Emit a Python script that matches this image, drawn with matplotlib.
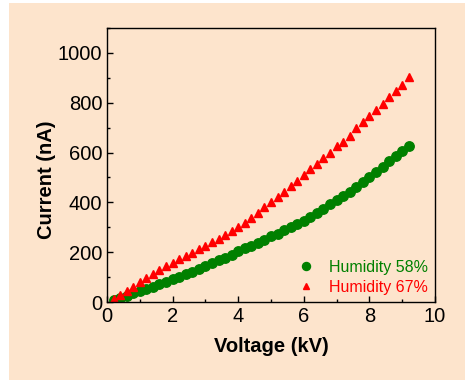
import matplotlib
matplotlib.use('Agg')
import matplotlib.pyplot as plt
from matplotlib.patches import Rectangle
from matplotlib.ticker import MultipleLocator

# voltage steps (kV)
voltage = [0.2, 0.4, 0.6, 0.8, 1.0, 1.2, 1.4, 1.6, 1.8, 2.0,
           2.2, 2.4, 2.6, 2.8, 3.0, 3.2, 3.4, 3.6, 3.8, 4.0,
           4.2, 4.4, 4.6, 4.8, 5.0, 5.2, 5.4, 5.6, 5.8, 6.0,
           6.2, 6.4, 6.6, 6.8, 7.0, 7.2, 7.4, 7.6, 7.8, 8.0,
           8.2, 8.4, 8.6, 8.8, 9.0, 9.2]

# current (nA) at humidity 58%
current_58 = [8, 15, 25, 35, 45, 53, 62, 72, 82, 92,
              102, 112, 122, 132, 143, 155, 167, 178, 190, 203,
              215, 226, 238, 250, 263, 275, 288, 300, 313, 327,
              342, 357, 373, 393, 408, 425, 443, 462, 482, 500,
              520, 543, 565, 588, 605, 627]

# current (nA) at humidity 67%
current_67 = [12, 30, 45, 62, 80, 97, 113, 130, 143, 158,
              172, 185, 198, 213, 225, 240, 252, 267, 285, 303,
              318, 337, 357, 380, 400, 420, 443, 465, 487, 510,
              532, 555, 578, 600, 625, 643, 665, 700, 722, 745,
              770, 793, 825, 848, 870, 905]

labels = ['Humidity 58%', 'Humidity 67%']
colors = ['#008000', '#ff0000']
peach = '#fde4cc'

plt.rcParams['font.family'] = ['Liberation Sans', 'DejaVu Sans']

fig = plt.figure(figsize=(4.65, 3.8), dpi=100, facecolor='white')
fig.patches.append(Rectangle((9 / 465, 0), 1, 377 / 380, transform=fig.transFigure,
                             facecolor=peach, edgecolor='none', zorder=-10))

ax = fig.add_axes([107 / 465, 1 - 302 / 380, 328 / 465, 274 / 380])
ax.set_facecolor(peach)

ax.plot(voltage, current_58, 'o', color=colors[0], markersize=6.8, label=labels[0])
ax.plot(voltage, current_67, '^', color=colors[1], markersize=5.3, label=labels[1])

ax.set_xlim(0, 10)
ax.set_ylim(0, 1100)
ax.xaxis.set_major_locator(MultipleLocator(2))
ax.xaxis.set_minor_locator(MultipleLocator(1))
ax.yaxis.set_major_locator(MultipleLocator(200))
ax.yaxis.set_minor_locator(MultipleLocator(100))
ax.tick_params(which='both', direction='in', top=False, right=False,
               labelsize=14.5, width=1)
ax.tick_params(which='major', length=4)
ax.tick_params(which='minor', length=2.5)
for s in ax.spines.values():
    s.set_linewidth(1)

ax.set_xlabel('Voltage (kV)', fontsize=14.5, fontweight='bold', labelpad=8)
ax.set_ylabel('Current (nA)', fontsize=14.5, fontweight='bold', labelpad=1)
ax.yaxis.label.set_y(0.445)

leg = ax.legend(loc='lower right', frameon=False, fontsize=11.5, handlelength=1.2,
                handletextpad=0.8, borderaxespad=0.05, labelspacing=0.3,
                markerscale=0.85)
for t, c in zip(leg.get_texts(), colors):
    t.set_color(c)

fig.savefig('out.png', dpi=100, facecolor=fig.get_facecolor())
